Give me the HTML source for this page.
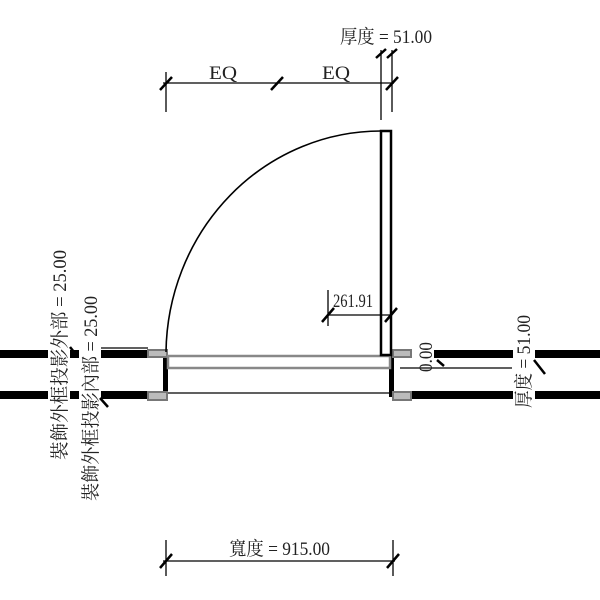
<!DOCTYPE html>
<html><head><meta charset="utf-8"><style>
html,body{margin:0;padding:0;background:#fff;}
svg{display:block}
text{font-family:"Liberation Serif","Noto Serif CJK SC","Noto Sans CJK TC",serif;font-size:19px;fill:#222}
</style></head><body>
<svg width="600" height="600" viewBox="0 0 600 600" xmlns="http://www.w3.org/2000/svg">
<g fill="#000">
<rect x="0" y="350" width="148" height="8"/>
<rect x="0" y="391" width="148" height="8"/>
<rect x="434" y="350" width="166" height="8"/>
<rect x="410" y="391" width="190" height="8"/>
<rect x="163" y="353" width="5" height="44"/>
<rect x="389" y="353" width="5" height="44"/>
</g>
<g stroke="#000" stroke-width="1.2">
<line x1="100" y1="348" x2="148" y2="348"/>
<line x1="100" y1="398" x2="148" y2="398"/>
<line x1="168" y1="393" x2="390" y2="393"/>
<line x1="400" y1="368" x2="512" y2="368"/>
</g>
<g fill="#bbb" stroke="#777" stroke-width="2">
<rect x="148" y="350" width="19" height="7"/>
<rect x="148" y="392" width="19" height="8"/>
<rect x="393" y="350" width="18" height="7"/>
<rect x="393" y="392" width="18" height="8"/>
</g>
<rect x="168" y="356" width="222" height="12" fill="none" stroke="#888" stroke-width="2.5"/>
<rect x="381" y="131" width="10" height="224" fill="#fff" stroke="#000" stroke-width="2.5"/>
<path d="M381 131 A215 224 0 0 0 166 352" fill="none" stroke="#000" stroke-width="1.6"/>
<g stroke="#000" stroke-width="1.3">
<line x1="163" y1="83" x2="394" y2="83"/>
<line x1="166" y1="72" x2="166" y2="112"/>
<line x1="381" y1="50" x2="381" y2="120"/>
<line x1="392" y1="50" x2="392" y2="112"/>
</g>
<g stroke="#000" stroke-width="2.5">
<line x1="160" y1="90" x2="172" y2="77"/>
<line x1="271" y1="90" x2="283" y2="77"/>
<line x1="386" y1="90" x2="398" y2="77"/>
<line x1="376" y1="58" x2="386" y2="49"/>
<line x1="387" y1="58" x2="397" y2="49"/>
</g>
<text x="209" y="79" textLength="28" lengthAdjust="spacingAndGlyphs">EQ</text>
<text x="322" y="79" textLength="28" lengthAdjust="spacingAndGlyphs">EQ</text>
<text x="340" y="43" textLength="92" lengthAdjust="spacingAndGlyphs">厚度 = 51.00</text>
<g stroke="#000" stroke-width="1.3">
<line x1="328" y1="315" x2="392" y2="315"/>
<line x1="328" y1="290" x2="328" y2="326"/>
</g>
<g stroke="#000" stroke-width="2.5">
<line x1="322" y1="322" x2="334" y2="308"/>
<line x1="385" y1="322" x2="397" y2="308"/>
</g>
<text x="333" y="307" textLength="40" lengthAdjust="spacingAndGlyphs">261.91</text>
<g stroke="#000" stroke-width="1.3">
<line x1="163" y1="561" x2="395" y2="561"/>
<line x1="166" y1="540" x2="166" y2="576"/>
<line x1="393" y1="540" x2="393" y2="576"/>
</g>
<g stroke="#000" stroke-width="2.5">
<line x1="160" y1="568" x2="172" y2="554"/>
<line x1="387" y1="568" x2="399" y2="554"/>
</g>
<text x="229" y="555" textLength="101" lengthAdjust="spacingAndGlyphs">寬度 = 915.00</text>
<rect x="513" y="313" width="22" height="97" fill="#fff"/>
<text transform="translate(432,372) rotate(-90)" textLength="30" lengthAdjust="spacingAndGlyphs">0.00</text>
<text transform="translate(530,408) rotate(-90)" textLength="93" lengthAdjust="spacingAndGlyphs">厚度 = 51.00</text>
<g stroke="#000" stroke-width="2.5">
<line x1="437" y1="360" x2="444" y2="366"/>
<line x1="534" y1="360" x2="545" y2="374"/>
</g>
<rect x="48" y="250" width="22" height="210" fill="#fff"/>
<rect x="79" y="295" width="22" height="205" fill="#fff"/>
<text transform="translate(66,460) rotate(-90)" textLength="210" lengthAdjust="spacingAndGlyphs">裝飾外框投影外部 = 25.00</text>
<text transform="translate(97,501) rotate(-90)" textLength="205" lengthAdjust="spacingAndGlyphs">裝飾外框投影內部 = 25.00</text>
<g stroke="#000" stroke-width="2.5">
<line x1="70" y1="347" x2="74" y2="352"/>
<line x1="100" y1="398" x2="108" y2="407"/>
</g>
</svg>
</body></html>
